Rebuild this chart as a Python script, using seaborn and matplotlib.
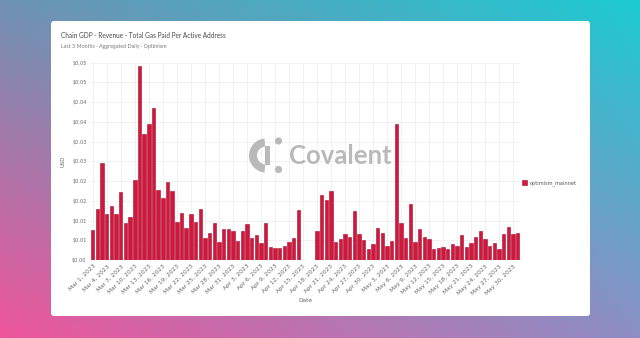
import numpy as np
import pandas as pd
import matplotlib
matplotlib.use("Agg")
import matplotlib.pyplot as plt
import matplotlib.colors as mcolors
import seaborn as sns
from matplotlib.patches import FancyBboxPatch, Wedge, Circle, Rectangle

# ---- data: total gas paid per active address (USD), daily ----
march_values = [
    0.0076, 0.0128, 0.0247, 0.0117, 0.0137, 0.0116, 0.0173, 0.0095, 0.0109, 0.0202,
    0.0492, 0.0319, 0.0345, 0.0386, 0.0177, 0.0158, 0.0197, 0.0175, 0.0097, 0.0119,
    0.0082, 0.0117, 0.0097, 0.0129, 0.0055, 0.0068, 0.0095, 0.0045, 0.0079, 0.0078,
    0.0073,
]
april_values = [
    0.0049, 0.0074, 0.0091, 0.0056, 0.0063, 0.0042, 0.0093, 0.0032, 0.0030, 0.0031,
    0.0036, 0.0046, 0.0055, 0.0127, np.nan, np.nan, np.nan, 0.0074, 0.0165, 0.0152,
    0.0175, 0.0046, 0.0053, 0.0066, 0.0059, 0.0123, 0.0065, 0.0050, 0.0027, 0.0041,
]
may_values = [
    0.0082, 0.0068, 0.0036, 0.0048, 0.0344, 0.0095, 0.0056, 0.0141, 0.0045, 0.0079,
    0.0059, 0.0052, 0.0029, 0.0031, 0.0034, 0.0027, 0.0041, 0.0035, 0.0063, 0.0033,
    0.0044, 0.0058, 0.0074, 0.0054, 0.0035, 0.0044, 0.0029, 0.0067, 0.0084, 0.0067,
    0.0068,
]
series_name = "optimism_mainnet"
y_ticks = [0.0, 0.005, 0.01, 0.015, 0.02, 0.025, 0.03, 0.035, 0.04, 0.045, 0.05]
y_tick_labels = ["$0.00", "$0.01", "$0.01", "$0.02", "$0.02", "$0.03",
                 "$0.03", "$0.04", "$0.04", "$0.05", "$0.05"]

days = pd.date_range("2023-03-01", "2023-05-31", freq="D")
day_labels = [f"{d:%b} {d.day}, {d.year}" for d in days]
values = march_values + april_values + may_values
df = pd.DataFrame({"Date": day_labels, "value": values})
tick_idx = list(range(0, len(day_labels), 3))

# ---- figure ----
W, H = 640, 338
sns.set_theme(style="white")
plt.rcParams["font.family"] = ["DejaVu Sans"]
fig = plt.figure(figsize=(W / 100, H / 100), dpi=100)

# gradient backdrop and white card
bg = fig.add_axes([0, 0, 1, 1], zorder=-10)
tl, tr, bl, br = [np.array(mcolors.to_rgb(c)) for c in
                  ("#6f92b3", "#1ccbd2", "#ef559b", "#8d8ec4")]
u = np.linspace(0, 1, 256)[None, :, None]
v = np.linspace(0, 1, 140)[:, None, None]
img = (1 - u) * (1 - v) * tl + u * (1 - v) * tr + (1 - u) * v * bl + u * v * br
bg.imshow(img, extent=[0, W, H, 0], aspect="auto", interpolation="bilinear")
bg.add_patch(FancyBboxPatch((51, 21), 539, 295,
                            boxstyle="round,pad=0,rounding_size=3",
                            fc="white", ec="none"))
bg.set_xlim(0, W)
bg.set_ylim(H, 0)
bg.axis("off")

# main bar chart
bar_color = "#d3163d"
ax = fig.add_axes([90 / W, (H - 260) / H, 430 / W, (260 - 62.7) / H])
sns.barplot(data=df, x="Date", y="value", order=day_labels, color=bar_color,
            saturation=1, width=0.72, errorbar=None, edgecolor="#a50f2d",
            linewidth=0.4, ax=ax, zorder=3)
ax.set_xlim(-0.6, 91.5)
ax.set_ylim(0, 0.05)
ax.set_yticks(y_ticks)
ax.set_yticklabels(y_tick_labels, fontsize=3.6, color="#666666")
ax.set_xticks(tick_idx)
ax.set_xticklabels([day_labels[i] for i in tick_idx], rotation=45, ha="right",
                   rotation_mode="anchor", fontsize=4.2, color="#666666")
ax.tick_params(axis="both", length=0, pad=2.5)
ax.grid(True, color="#ebebeb", linewidth=0.5, zorder=0)
ax.set_axisbelow(True)
for s in ax.spines.values():
    s.set_visible(False)
ax.set_xlabel("")
ax.set_ylabel("USD", fontsize=3.8, color="#666666", labelpad=5)
ax.set_facecolor("none")

# overlay in pixel coordinates for titles, legend and watermark
ov = fig.add_axes([0, 0, 1, 1], zorder=5)
ov.set_xlim(0, W)
ov.set_ylim(H, 0)
ov.axis("off")
ov.patch.set_alpha(0)

ov.text(61, 36, "Chain GDP - Revenue - Total Gas Paid Per Active Address",
        fontsize=4.7, family="Lato", color="#4a4a4a", va="center", ha="left")
ov.text(61, 46.5, "Last 3 Months · Aggregated Daily · Optimism",
        fontsize=3.9, family="Lato", color="#7a7a7a", va="center", ha="left")
ov.text(305, 301, "Date", fontsize=4.2, color="#666666", ha="center", va="center")

# legend
ov.add_patch(Rectangle((521.5, 180), 5, 5, fc=bar_color, ec="#a50f2d", lw=0.4))
ov.text(530, 182.7, series_name, fontsize=3.6, color="#555555", va="center", ha="left")

# watermark logo
wm = "#b2b2b2"
ov.add_patch(Wedge((266, 155.5), 17, 95, 265, width=8, fc=wm, ec="none", alpha=0.9))
ov.add_patch(Rectangle((264.5, 146), 5, 19, fc=wm, ec="none", alpha=0.9))
ov.add_patch(Circle((278.5, 141), 3.6, fc=wm, ec="none", alpha=0.9))
ov.add_patch(Circle((278.5, 169.5), 3.6, fc=wm, ec="none", alpha=0.9))
ov.text(289, 156, "Covalent", fontsize=18.5, fontweight="bold", family="Lato",
        color=wm, alpha=0.9, va="center", ha="left")

fig.savefig("out.png", dpi=100)
